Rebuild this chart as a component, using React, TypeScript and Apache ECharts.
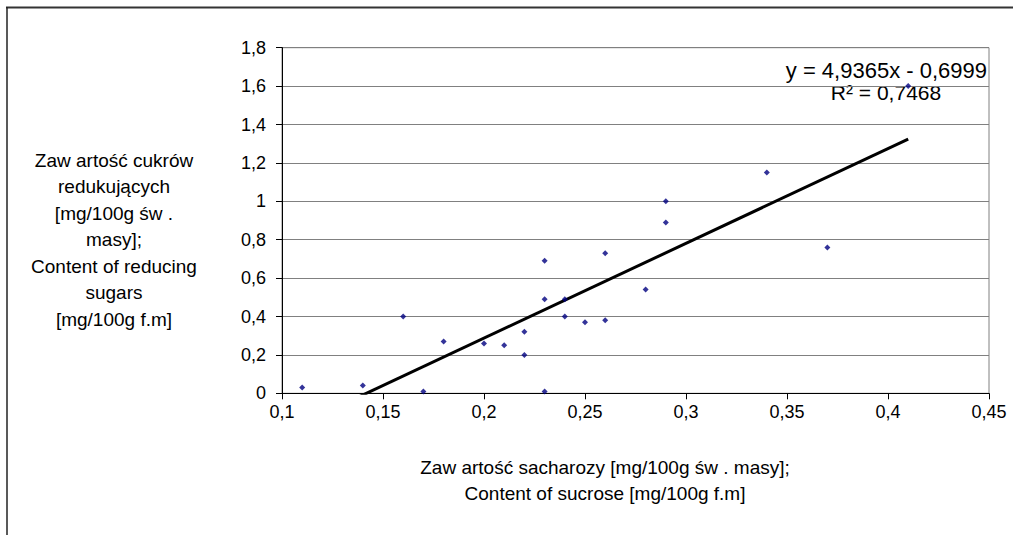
import React, { useEffect, useRef } from "react";
import * as echarts from "echarts";

const sucrose = [0.11, 0.14, 0.16, 0.17, 0.18, 0.20, 0.21, 0.22, 0.22, 0.23, 0.23, 0.23, 0.24, 0.24, 0.25, 0.26, 0.26, 0.28, 0.29, 0.29, 0.34, 0.37, 0.41];
const reducing = [0.03, 0.04, 0.40, 0.01, 0.27, 0.26, 0.25, 0.32, 0.20, 0.69, 0.49, 0.01, 0.49, 0.40, 0.37, 0.73, 0.38, 0.54, 1.00, 0.89, 1.15, 0.76, 1.60];

const trendSlope = 4.9365;
const trendIntercept = -0.6999;
const trendXRange = [0.11, 0.41];

const xTitleLines = ["Zaw artość sacharozy [mg/100g św . masy];", "Content of sucrose [mg/100g f.m]"];
const yTitleLines = ["Zaw artość cukrów", "redukujących", "[mg/100g św .", "masy];", "Content of reducing", "sugars", "[mg/100g f.m]"];
const equationText = "y = 4,9365x - 0,6999";
const r2Text = "R² = 0,7468";

const FONT = "'Liberation Sans', Arial, sans-serif";

export default function App() {
  const ref = useRef<HTMLDivElement>(null);
  useEffect(() => {
    if (!ref.current) return;
    const chart = echarts.init(ref.current, undefined, { renderer: "svg" });
    const points = sucrose.map((x, i) => [x, reducing[i]]);
    const trend = trendXRange.map((x) => [x, trendSlope * x + trendIntercept]);
    const fmt = (v: number) => String(Number(v.toFixed(2))).replace(".", ",");
    chart.setOption({
      animation: false,
      backgroundColor: "#ffffff",
      textStyle: { fontFamily: FONT },
      grid: { left: 282, right: 24, top: 47.7, bottom: 141.7, show: true, borderColor: "#808080", borderWidth: 1 },
      xAxis: {
        type: "value",
        min: 0.1,
        max: 0.45,
        interval: 0.05,
        axisLine: { show: true, onZero: false, lineStyle: { color: "#000", width: 1 } },
        axisTick: { show: true, inside: false, length: 6, lineStyle: { color: "#000" } },
        axisLabel: { fontSize: 18, color: "#000", margin: 10, fontFamily: FONT, formatter: fmt },
        splitLine: { show: false },
      },
      yAxis: {
        type: "value",
        min: 0,
        max: 1.8,
        interval: 0.2,
        axisLine: { show: true, lineStyle: { color: "#000", width: 1 } },
        axisTick: { show: true, inside: false, length: 6, lineStyle: { color: "#000" } },
        axisLabel: { fontSize: 18, color: "#000", margin: 16, fontFamily: FONT, formatter: fmt },
        splitLine: { show: true, lineStyle: { color: "#808080", width: 1 } },
      },
      series: [
        {
          type: "scatter",
          data: points,
          symbol: "diamond",
          symbolSize: 6,
          itemStyle: { color: "#000080" },
          z: 3,
        },
        {
          type: "line",
          data: trend,
          showSymbol: false,
          symbol: "none",
          clip: true,
          lineStyle: { color: "#000", width: 3 },
          z: 2,
        },
      ],
      graphic: [
        { type: "line", shape: { x1: 6, y1: 7.5, x2: 1013, y2: 7.5 }, style: { stroke: "#333", lineWidth: 2 } },
        { type: "line", shape: { x1: 7, y1: 7, x2: 7, y2: 535 }, style: { stroke: "#222", lineWidth: 1.5 } },
        {
          type: "text",
          x: 987,
          y: 70,
          style: { text: equationText, font: `22px ${FONT}`, fill: "#000", align: "right", verticalAlign: "middle" },
        },
        {
          type: "text",
          x: 886,
          y: 92,
          style: { text: r2Text, font: `21px ${FONT}`, fill: "#000", align: "center", verticalAlign: "middle" },
        },
        ...xTitleLines.map((t, i) => ({
          type: "text",
          x: 605,
          y: 467 + i * 26,
          style: { text: t, font: `19px ${FONT}`, fill: "#000", align: "center", verticalAlign: "middle" },
        })),
        ...yTitleLines.map((t, i) => ({
          type: "text",
          x: 114,
          y: 160 + i * 26.5,
          style: { text: t, font: `19px ${FONT}`, fill: "#000", align: "center", verticalAlign: "middle" },
        })),
      ],
    });
    return () => chart.dispose();
  }, []);
  return <div ref={ref} style={{ position: "fixed", left: 0, top: 0, width: 1013, height: 535 }} />;
}
